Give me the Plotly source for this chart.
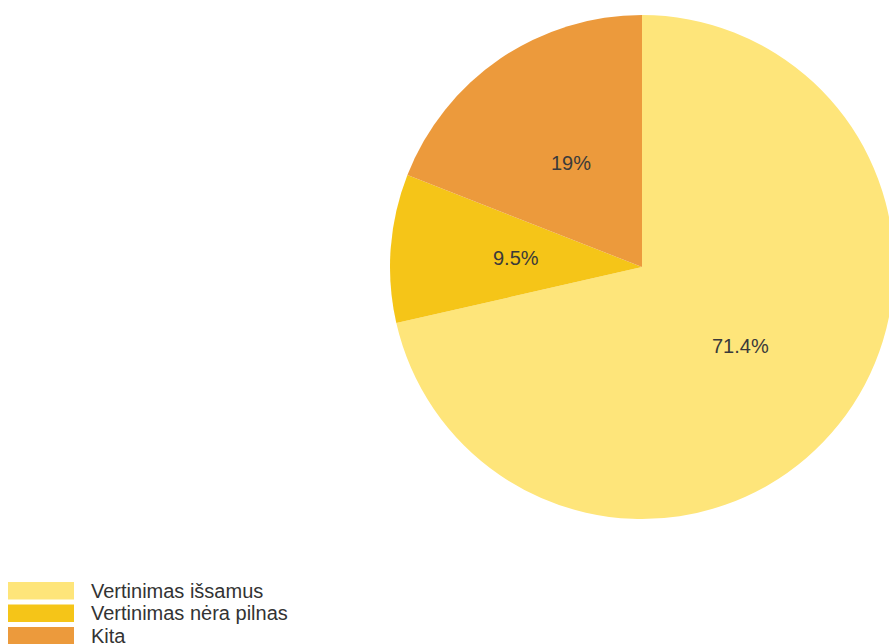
import math
import plotly.graph_objects as go

labels = ["Vertinimas išsamus", "Vertinimas nėra pilnas", "Kita"]
values = [15, 2, 4]
colors = ["#FEE57A", "#F5C518", "#EC9A3C"]

total = sum(values)
pct_text = [f"{round(v / total * 100, 1):g}%" for v in values]

W, H = 896, 644  # slightly wider than the window: pie is cut at the right edge
FONT = "Arial, Liberation Sans, sans-serif"

# pie geometry (px)
CX, CY, R = 642, 267, 252

fig = go.Figure()
fig.add_trace(go.Pie(
    labels=labels,
    values=values,
    textinfo="none",
    marker=dict(colors=colors, line=dict(width=0)),
    sort=False,
    direction="clockwise",
    rotation=0,
    showlegend=False,
    hoverinfo="label+percent",
    domain=dict(x=[(CX - R) / W, min(1.0, (CX + R) / W)],
                y=[1 - (CY + R) / H, 1 - (CY - R) / H]),
))

shapes = []
annotations = []

# percentage labels placed at half radius on each slice bisector
cum = 0
for v, t in zip(values, pct_text):
    theta = 2 * math.pi * (cum + v / 2) / total
    cum += v
    lx = CX + 0.5 * R * math.sin(theta)
    ly = CY - 0.5 * R * math.cos(theta)
    annotations.append(dict(
        text=t, xref="paper", yref="paper", x=lx / W, y=1 - ly / H,
        xanchor="center", yanchor="middle", showarrow=False,
        font=dict(family=FONT, size=20, color="#3a3a3a"),
    ))

# custom legend (wide swatches) built from the data lists
row_top = 582
pitch = 22.5
for i, (lab, col) in enumerate(zip(labels, colors)):
    y0 = row_top + i * pitch
    y1 = y0 + 17.5
    shapes.append(dict(
        type="rect", xref="paper", yref="paper",
        x0=8 / W, x1=74 / W, y0=1 - y1 / H, y1=1 - y0 / H,
        fillcolor=col, line=dict(width=0), layer="above",
    ))
    annotations.append(dict(
        text=lab, xref="paper", yref="paper",
        x=89 / W, y=1 - (y0 + 8.5) / H, xanchor="left", yanchor="middle",
        showarrow=False, font=dict(family=FONT, size=20, color="#333333"),
    ))

fig.update_layout(
    width=W, height=H,
    margin=dict(l=0, r=0, t=0, b=0),
    paper_bgcolor="white",
    plot_bgcolor="white",
    shapes=shapes,
    annotations=annotations,
    font=dict(family=FONT),
)

fig.write_html(
    "out.html",
    config={"displayModeBar": False},
    post_script="document.body.style.margin='0';document.body.style.overflow='hidden';",
)
